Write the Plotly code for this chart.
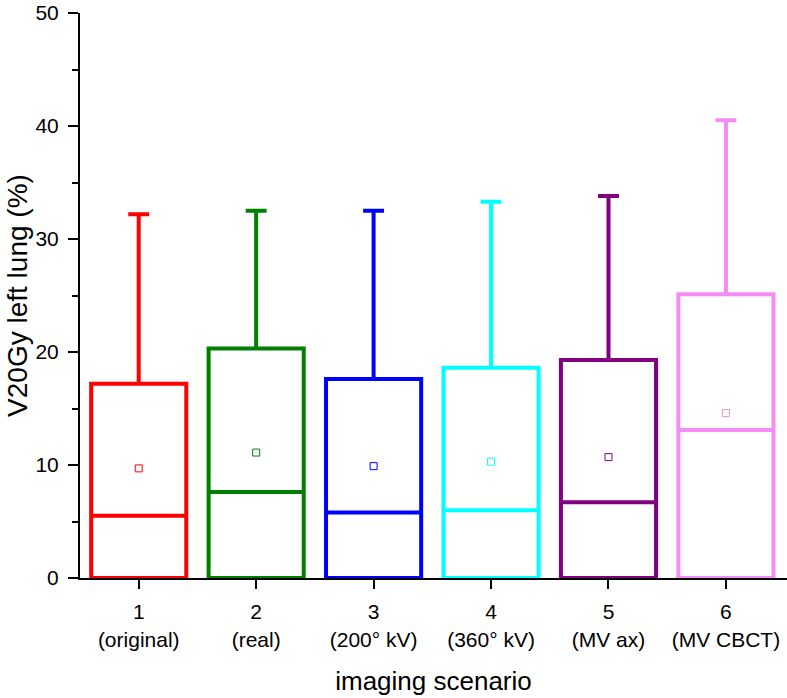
import plotly.graph_objects as go

scenarios = [1, 2, 3, 4, 5, 6]
scenario_names = ["(original)", "(real)", "(200° kV)", "(360° kV)", "(MV ax)", "(MV CBCT)"]
colors = ["#ff0000", "#008000", "#0000ff", "#00ffff", "#800080", "#f58cf5"]
lower = [0, 0, 0, 0, 0, 0]
q1 = [0, 0, 0, 0, 0, 0]
median = [5.5, 7.6, 5.8, 6.0, 6.7, 13.1]
q3 = [17.2, 20.3, 17.6, 18.6, 19.3, 25.1]
upper = [32.2, 32.5, 32.5, 33.3, 33.8, 40.5]
mean = [9.7, 11.1, 9.9, 10.3, 10.7, 14.6]

fig = go.Figure()
for i, s in enumerate(scenarios):
    fig.add_trace(go.Box(
        x=[s], q1=[q1[i]], median=[median[i]], q3=[q3[i]],
        lowerfence=[lower[i]], upperfence=[upper[i]],
        width=0.81, whiskerwidth=0.22,
        line=dict(color=colors[i], width=4),
        fillcolor="rgba(255,255,255,0)",
        boxpoints=False, showlegend=False, hoverinfo="skip",
    ))
    fig.add_trace(go.Scatter(
        x=[s], y=[mean[i]], mode="markers",
        marker=dict(symbol="square-open", size=7, color=colors[i], line=dict(width=1)),
        showlegend=False, hoverinfo="skip",
    ))

ticktext = [f"{s}<br>{n}" for s, n in zip(scenarios, scenario_names)]

fig.update_layout(
    width=787, height=698,
    margin=dict(l=80, r=0, t=13, b=120),
    plot_bgcolor="white", paper_bgcolor="white",
    font=dict(family="Liberation Sans, Arial, sans-serif", color="black"),
    xaxis=dict(
        range=[0.5, 6.52], tickmode="array", tickvals=scenarios, ticktext=ticktext,
        ticks="outside", ticklen=9, tickwidth=2, tickcolor="black",
        showline=True, linecolor="black", linewidth=2, showgrid=False, zeroline=False,
        tickfont=dict(size=21), ticklabelstandoff=5,
        title=dict(text="imaging scenario", font=dict(size=26), standoff=22),
    ),
    yaxis=dict(
        range=[0, 50], tickmode="linear", tick0=0, dtick=10,
        ticks="outside", ticklen=10, tickwidth=2, tickcolor="black",
        minor=dict(dtick=5, ticks="outside", ticklen=6, tickwidth=2, tickcolor="black", showgrid=False),
        showline=True, linecolor="black", linewidth=2, showgrid=False, zeroline=False,
        tickfont=dict(size=21), ticklabelstandoff=5,
        title=dict(text="V20Gy left lung (%)", font=dict(size=28), standoff=0),
    ),
)

fig.write_html("out.html", config={"displayModeBar": False},
               post_script="document.body.style.margin='0px';")
